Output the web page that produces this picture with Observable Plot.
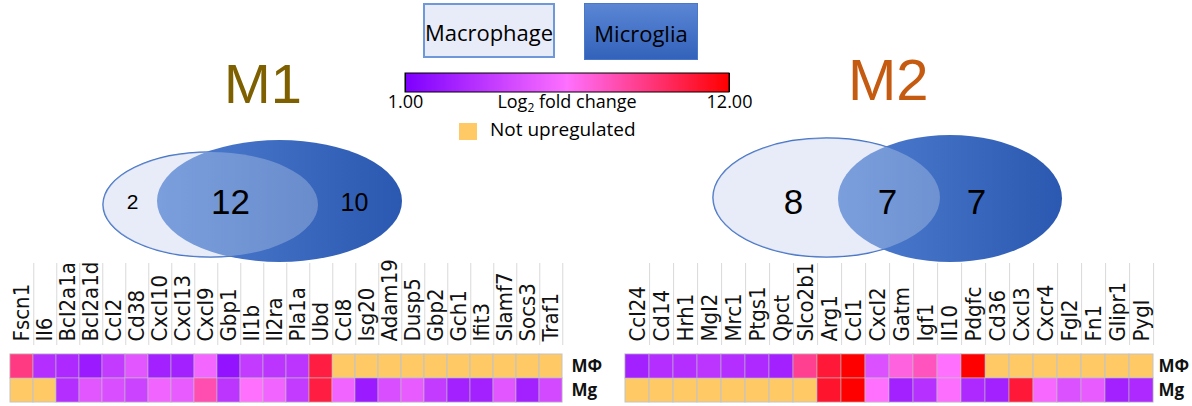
<!DOCTYPE html>
<html><head><meta charset="utf-8">
<script src="https://cdn.jsdelivr.net/npm/d3@7"></script>
<script src="https://cdn.jsdelivr.net/npm/@observablehq/plot@0.6"></script>
<style>
html,body{margin:0;padding:0;background:#fff;}
#root{position:relative;width:1192px;height:406px;overflow:hidden;font-family:"Open Sans",sans-serif;color:#000;}
.box{position:absolute;box-sizing:border-box;display:flex;align-items:center;justify-content:center;font-size:22px;padding-top:3px;}
</style></head><body><div id="root"></div>
<script>
// ---------------- DATA ----------------
const rowLabels = ["MΦ", "Mg"];
const m1Genes = ["Fscn1","Il6","Bcl2a1a","Bcl2a1d","Ccl2","Cd38","Cxcl10","Cxcl13","Cxcl9","Gbp1","Il1b","Il2ra","Pla1a","Ubd",
  "Ccl8","Isg20","Adam19","Dusp5","Gbp2","Gch1","Ifit3","Slamf7","Socs3","Traf1"];
const m1Macro = [9.2,3.3,3.0,2.3,3.9,5.2,2.6,2.6,6.0,1.9,3.9,3.6,3.6,10.6,
  null,null,null,null,null,null,null,null,null,null];
const m1Micro = [null,null,3.3,5.2,4.9,4.3,5.9,5.5,8.2,3.6,6.5,5.9,3.9,10.6,
  5.9,2.3,4.9,5.5,3.9,2.6,2.6,5.2,2.6,4.6];
const m2Genes = ["Ccl24","Cd14","Hrh1","Mgl2","Mrc1","Ptgs1","Qpct","Slco2b1","Arg1","Ccl1","Cxcl2","Gatm","Igf1","Il10","Pdgfc",
  "Cd36","Cxcl3","Cxcr4","Fgl2","Fn1","Glipr1","Pygl"];
const m2Macro = [2.6,3.3,3.3,3.6,3.3,3.0,2.6,8.9,10.8,12,5.0,7.2,7.9,6.5,12,
  null,null,null,null,null,null,null];
const m2Micro = [null,null,null,null,null,null,null,null,11,12,6.5,2.6,3.4,6.4,3.0,
  2.6,10.8,6.1,5.0,5.5,2.6,3.0];
const m1Venn = [2, 12, 10];   // macrophage only, shared, microglia only
const m2Venn = [8, 7, 7];
const colorTicks = [1, 12];
const seriesNames = ["Macrophage", "Microglia"];
const panelTitles = ["M1", "M2"];

// ---------------- STYLE / LAYOUT ----------------
const colorStops = ["#7e00ff", "#ff70ff", "#ff0000"];
const notUp = "#ffc966";
const colorOpts = {type: "linear", domain: [1, 12], interpolate: d3.piecewise(d3.interpolateRgb, colorStops)};
const root = document.getElementById("root");
function place(node, left, top) {
  node.style.position = "absolute"; node.style.left = left + "px"; node.style.top = top + "px";
  root.appendChild(node); return node;
}
function div(html, css, cls) {
  const d = document.createElement("div"); d.innerHTML = html; d.style.cssText = css;
  if (cls) d.className = cls; root.appendChild(d); return d;
}

// ---------------- HEATMAPS ----------------
function heatmap(genes, macro, micro, width, marginRight) {
  const table = genes.flatMap((g, i) => [
    {gene: g, row: rowLabels[0], v: macro[i]},
    {gene: g, row: rowLabels[1], v: micro[i]}
  ]);
  const bw = (width - 3 - marginRight) / genes.length;
  return Plot.plot({
    width, height: 156, marginTop: 104, marginBottom: 4, marginLeft: 3, marginRight,
    style: {background: "none", overflow: "visible", fontFamily: "'Liberation Sans Narrow','DejaVu Sans Condensed','Liberation Sans',Arial,sans-serif", color: "#111"},
    x: {domain: genes, padding: 0},
    y: {domain: rowLabels, padding: 0},
    color: colorOpts,
    marks: [
      Plot.ruleX(genes, {x: d => d, dx: bw / 2, insetTop: -91, insetBottom: 57, stroke: "#d9d9d9", strokeWidth: 1}),
      Plot.cell(table, {x: "gene", y: "row", fill: notUp, stroke: "#c4c4c4", strokeWidth: 1}),
      Plot.cell(table.filter(d => d.v != null), {x: "gene", y: "row", fill: "v", stroke: "#c4c4c4", strokeOpacity: 0.55, strokeWidth: 1}),
      Plot.axisX({anchor: "top", tickRotate: -90, tickSize: 0, tickPadding: 13, fontSize: 22, label: null}),
      Plot.axisY({anchor: "right", tickSize: 0, tickPadding: 3, fontSize: 17, fontWeight: "bold", label: null, fontFamily: "'Open Sans',sans-serif"})
    ]
  });
}
place(heatmap(m1Genes, m1Macro, m1Micro, 610, 42), 0, 250);
place(heatmap(m2Genes, m2Macro, m2Micro, 572, 37), 620, 250);

// ---------------- VENNS ----------------
function venn(counts, L, gid) {
  const ell = {rx: 9999, ry: 9999};
  const svg = Plot.plot({
    width: L.w, height: L.h, margin: 0,
    x: {domain: [0, L.w], range: [0, L.w], axis: null},
    y: {domain: [0, L.h], range: [0, L.h], axis: null},
    style: {background: "none", overflow: "visible"},
    marks: [
      Plot.rect([L.macro], {x1: "x1", x2: "x2", y1: "y1", y2: "y2", ...ell, fill: "#e0e6f6", stroke: "#4472c4", strokeWidth: 1.5}),
      Plot.rect([L.micro], {x1: "x1", x2: "x2", y1: "y1", y2: "y2", ...ell, fill: `url(#${gid})`}),
      Plot.rect([L.macro], {x1: "x1", x2: "x2", y1: "y1", y2: "y2", ...ell, fill: "white", fillOpacity: 0.25}),
      Plot.text(counts, {x: (d, i) => L.tx[i], y: () => L.ty, text: d => String(d), fontSize: (d, i) => L.fs[i],
        fill: "#000", fontFamily: "'Liberation Sans',Arial,sans-serif", dy: 2})
    ]
  });
  d3.select(svg).insert("defs", ":first-child").html(
    `<linearGradient id="${gid}" x1="0" x2="1" y1="0" y2="0"><stop offset="0" stop-color="#4f7fd1"/><stop offset="1" stop-color="#2b58b0"/></linearGradient>`);
  return svg;
}
place(venn(m1Venn, {w: 330, h: 140,
  macro: {x1: 13, x2: 228, y1: 22, y2: 127}, micro: {x1: 67, x2: 312, y1: 10, y2: 132},
  tx: [42, 140, 264], ty: 70, fs: [21, 35, 25]}, "mg1"), 90, 130);
place(venn(m2Venn, {w: 370, h: 140,
  macro: {x1: 13, x2: 240, y1: 8, y2: 127}, micro: {x1: 138, x2: 362, y1: 5, y2: 132},
  tx: [93, 187, 276], ty: 70, fs: [35, 35, 35]}, "mg2"), 700, 130);

// ---------------- TITLES ----------------
div(panelTitles[0], "position:absolute;left:224px;top:56px;font-family:'Liberation Sans',Arial,sans-serif;font-size:56px;line-height:56px;color:#7f6000;");
div(panelTitles[1], "position:absolute;left:848px;top:51px;font-family:'Liberation Sans',Arial,sans-serif;font-size:58px;line-height:58px;color:#c55a11;");

// ---------------- LEGENDS ----------------
div(seriesNames[0], "left:423px;top:3px;width:132px;height:55px;border:2px solid #6f98da;background:#e8ecf8;", "box");
div(seriesNames[1], "left:584px;top:3px;width:114px;height:57px;border:1px solid #4a78c8;background:linear-gradient(#5a86d4,#3362bb);", "box");

const bar = Plot.legend({
  color: colorOpts, width: 369, height: 42, marginTop: 2, marginBottom: 21, marginLeft: 20, marginRight: 25,
  ticks: colorTicks, tickFormat: ".2f", tickSize: 0, label: null,
  style: {fontFamily: "'Open Sans',sans-serif", fontSize: "18px", color: "#000", overflow: "visible", background: "none"}
});
const barSvg = bar.tagName.toLowerCase() === "svg" ? bar : bar.querySelector("svg");
d3.select(barSvg).selectAll("text").attr("font-size", 18).attr("font-family", "'Open Sans',sans-serif").attr("fill", "#000");
d3.select(barSvg).append("rect").attr("x", 20).attr("y", 2).attr("width", 324).attr("height", 19)
  .attr("fill", "none").attr("stroke", "#000").attr("stroke-width", 1);
place(bar, 385, 71);

div("Log<sub style='font-size:12px;vertical-align:-4px;line-height:0'>2</sub> fold change",
  "position:absolute;left:467px;top:92px;width:200px;text-align:center;font-size:18px;line-height:18px;");
div("", `position:absolute;left:459px;top:123px;width:18px;height:17px;background:${notUp};`);
div("Not upregulated", "position:absolute;left:490px;top:120px;font-size:19px;line-height:19px;");
</script></body></html>
